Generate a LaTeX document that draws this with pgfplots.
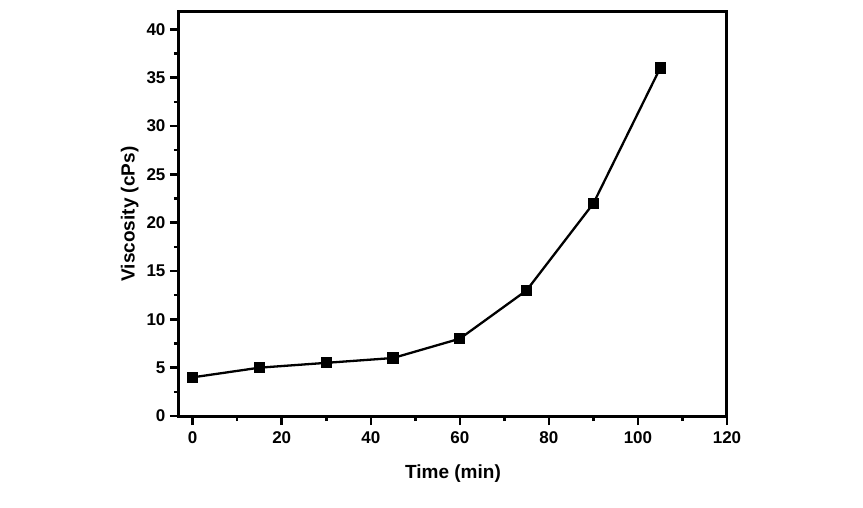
\documentclass[border=0pt]{standalone}
\usepackage{pgfplots}
\pgfplotsset{compat=1.18}
\usepackage{fontspec}
\setmainfont{Liberation Sans}
\begin{document}
\begin{tikzpicture}
\begin{axis}[
  scale only axis,
  width=548pt, height=404pt,
  xmin=-3.08, xmax=120,
  ymin=0, ymax=41.8,
  xtick={0,20,...,120},
  ytick={0,5,...,40},
  minor tick num=1,
  tick align=outside,
  xtick pos=bottom, ytick pos=left,
  major tick length=9pt, minor tick length=5pt,
  every tick/.style={line width=2.5pt, black},
  axis line style={line width=3pt},
  /pgf/number format/assume math mode=true,
  ticklabel style={font=\fontsize{17}{20}\selectfont\bfseries},
  xticklabel style={yshift=-3pt},
  yticklabel style={xshift=-1pt},
  xlabel={Time (min)},
  ylabel={Viscosity (cPs)},
  label style={font=\fontsize{19}{22}\selectfont\bfseries},
  xlabel style={yshift=-14pt},
  ylabel style={yshift=1pt},
  clip=false,
]
\addplot[black, line width=2.3pt, mark=square*, mark size=4.5pt, mark options={solid, fill=black}] coordinates {
  (0,4) (15,5) (30,5.5) (45,6) (60,8) (75,13) (90,22) (105,36)
};
\path (axis description cs:-0.3266,-0.2277) rectangle (axis description cs:1.2482,1.0297);
\end{axis}
\end{tikzpicture}
\end{document}
